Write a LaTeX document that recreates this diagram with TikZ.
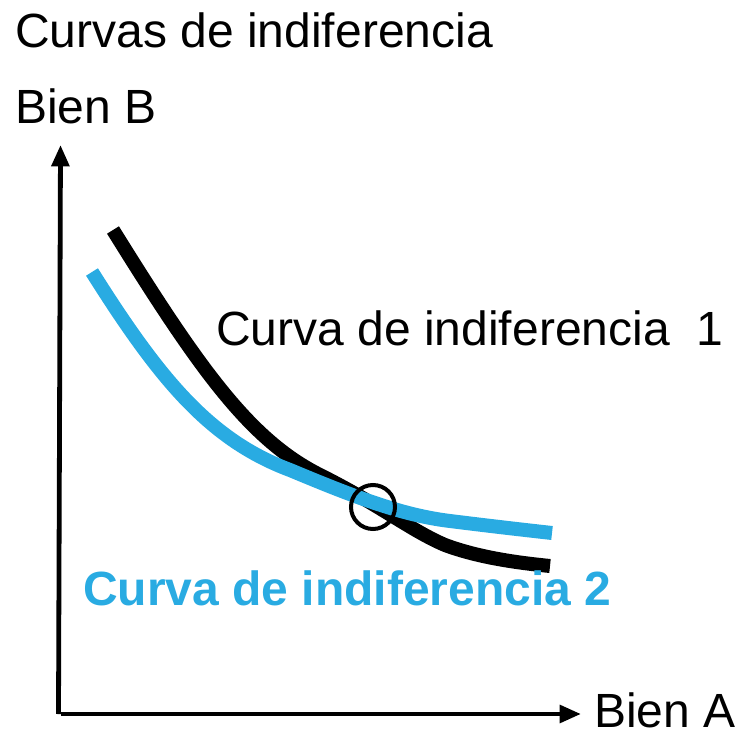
\documentclass[tikz,border=0pt]{standalone}
\usepackage{fontspec}
\setmainfont{Liberation Sans}
\usetikzlibrary{arrows.meta}
\definecolor{curveblue}{HTML}{29ABE2}
\begin{document}
\begin{tikzpicture}[x=0.75pt,y=-0.75pt,
  lbl/.style={anchor=base west,inner sep=0pt,font=\fontsize{36}{40}\selectfont},
  axis/.style={line width=3.6pt,-{Triangle[length=16pt,width=13pt]}},
  curve/.style={line width=10.5pt}]
\useasboundingbox (0,0) rectangle (739,734);
\node[lbl] (title) at (15,48) {Curvas de indiferencia};
\node[lbl] (ylab) at (15,124) {Bien B};
\node[lbl] (xlab) at (594,727) {Bien A};
\coordinate (o) at (60.5,714);
\coordinate (ytip) at (60.5,145);
\coordinate (xtip) at (581,714);
\draw[axis] (58.5,714) -- (ytip);
\draw[axis] (o) -- (xtip);
% black curve (1)
\draw[curve,black] (113,230) .. controls (200,370) and (250,440) .. (320,475)
  .. controls (380,505) and (410,530) .. (445,545)
  .. controls (480,558) and (520,563) .. (550,566);
% blue curve (2)
\draw[curve,curveblue] (92,272) .. controls (160,380) and (210,440) .. (290,470)
  .. controls (350,495) and (400,515) .. (450,521)
  .. controls (490,526) and (525,530) .. (552,533);
\node[draw,circle,line width=3pt,minimum size=33pt,inner sep=0pt] (cross) at (373,507) {};
\node[lbl] (c1) at (216,345) {Curva de indiferencia\ \ 1};
\node[lbl,font=\fontsize{36}{40}\selectfont\bfseries,text=curveblue] (c2) at (83,605) {Curva de indiferencia 2};
\end{tikzpicture}
\end{document}
